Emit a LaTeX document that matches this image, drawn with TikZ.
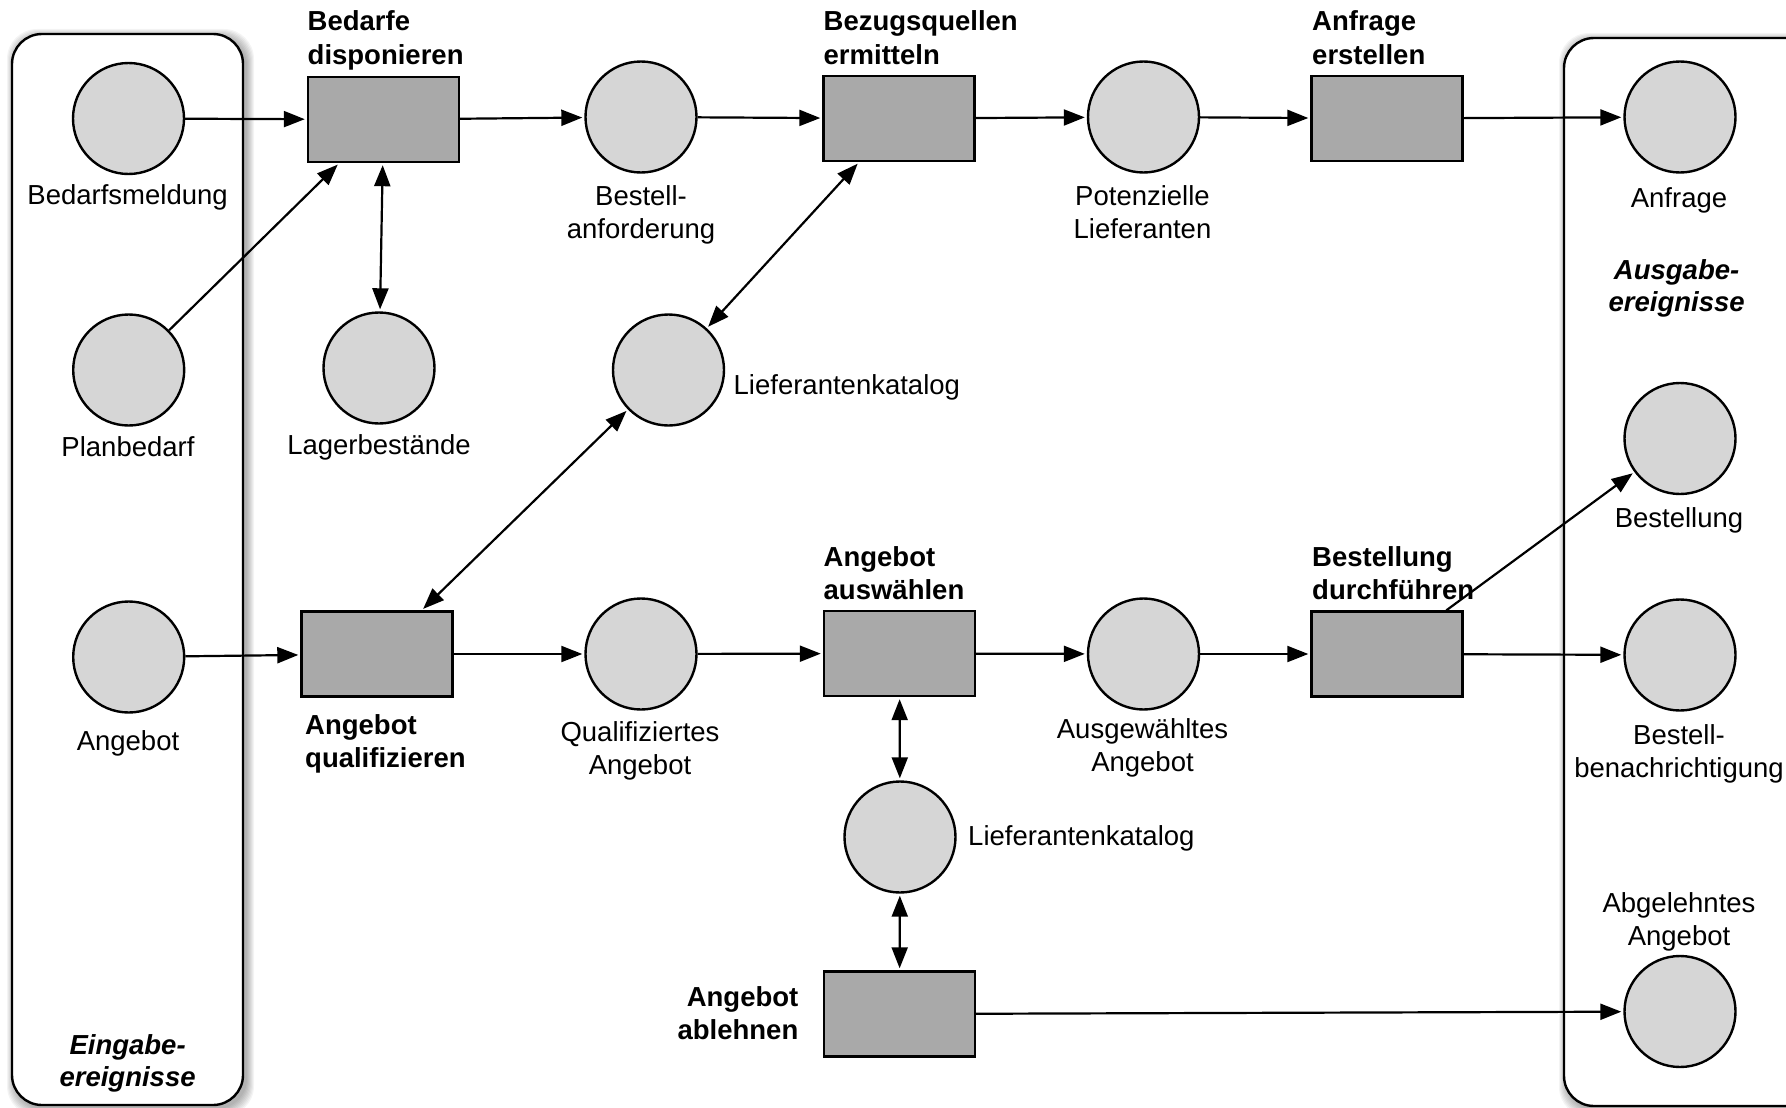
\documentclass[tikz,border=0pt]{standalone}
\usepackage{fontspec}
\setmainfont{Liberation Sans}
\usetikzlibrary{arrows.meta}

\definecolor{placefill}{HTML}{D6D6D6}
\definecolor{transfill}{HTML}{A9A9A9}

\begin{document}
\begin{tikzpicture}[x=1pt,y=-1pt,
  place/.style={circle,draw,fill=placefill,line width=2.4pt,minimum size=111pt,inner sep=0pt},
  trans/.style={rectangle,draw,fill=transfill,line width=2.4pt,minimum width=151pt,minimum height=85pt,inner sep=0pt},
  lbl/.style={font=\fontsize{27.5}{33}\selectfont,align=center,anchor=base,inner sep=0pt},
  tlbl/.style={font=\fontsize{27.5}{33}\selectfont\bfseries,align=left,anchor=base west,inner sep=0pt},
  grouplbl/.style={font=\fontsize{27.5}{32}\selectfont\bfseries\itshape,align=center,anchor=base,inner sep=0pt},
  group/.style={draw,fill=white,line width=2.4pt,rounded corners=30pt},
  arr/.style={line width=2.2pt,-{Triangle[length=21pt,width=16pt]},shorten >=2pt},
  biarr/.style={line width=2.2pt,{Triangle[length=21pt,width=16pt]}-{Triangle[length=21pt,width=16pt]},shorten >=2pt,shorten <=2pt}
]
\clip (0,0) rectangle (1786,1108);

% soft shadows behind the two event containers
\foreach \d in {1,...,8}{
  \fill[black,opacity=0.045,rounded corners=30pt] (12+3-\d,34+3-\d) rectangle (243+3+\d,1105+3+\d);
  \fill[black,opacity=0.045,rounded corners=30pt] (1564+3-\d,38+3-\d) rectangle (1850+3+\d,1106+3+\d);
}
% event containers
\draw[group] (12,34) rectangle (243,1105);
\draw[group] (1564,38) rectangle (1850,1106);

% places
\node[place] (bm)   at (128.5,118.5) {};
\node[place] (pb)   at (128.7,370)   {};
\node[place] (ang)  at (128.7,657)   {};
\node[place] (lag)  at (379,368)     {};
\node[place] (banf) at (641,117)     {};
\node[place] (lk1)  at (668.5,370)   {};
\node[place] (potl) at (1143.5,117)  {};
\node[place] (qang) at (641,654)     {};
\node[place] (lk2)  at (900,837)     {};
\node[place] (aang) at (1143.5,654)  {};
\node[place] (anf)  at (1680,117)    {};
\node[place] (best) at (1680,438.5)  {};
\node[place] (bben) at (1680,655)    {};
\node[place] (abg)  at (1680,1011.5) {};

% transitions
\node[trans] (bd)  at (383.5,119.5) {};
\node[trans] (bq)  at (899,118.5)   {};
\node[trans] (ae)  at (1387,118.5)  {};
\node[trans] (aq)  at (377,654)     {};
\node[trans] (aa)  at (899.5,653.5) {};
\node[trans] (bdf) at (1387,654)    {};
\node[trans] (aab) at (899.5,1014)  {};

% place labels (multi-line labels are anchored at their last baseline)
\node[lbl] (t-bm)   at (127.6,204)   {Bedarfsmeldung};
\node[lbl] (t-pb)   at (128,456.7)   {Planbedarf};
\node[lbl] (t-ang)  at (128,750.6)   {Angebot};
\node[lbl] (t-lag)  at (379,454.5)   {Lagerbestände};
\node[lbl] (t-banf) at (641,238)     {Bestell-\\anforderung};
\node[lbl,anchor=base west] (t-lk1) at (733.5,394) {Lieferantenkatalog};
\node[lbl] (t-potl) at (1142.5,238)  {Potenzielle\\Lieferanten};
\node[lbl] (t-anf)  at (1679,207)    {Anfrage};
\node[lbl] (t-best) at (1679,527)    {Bestellung};
\node[lbl] (t-bben) at (1679,777)    {Bestell-\\benachrichtigung};
\node[lbl] (t-qang) at (640,774.5)   {Qualifiziertes\\Angebot};
\node[lbl] (t-aang) at (1142.5,771)  {Ausgewähltes\\Angebot};
\node[lbl,anchor=base west] (t-lk2) at (968,845) {Lieferantenkatalog};
\node[lbl] (t-abg)  at (1679,945)    {Abgelehntes\\Angebot};

% container labels
\node[grouplbl] (t-in)  at (127.6,1086) {Eingabe-\\ereignisse};
\node[grouplbl] (t-out) at (1676.6,311) {Ausgabe-\\ereignisse};

% transition labels
\node[tlbl] (t-bd)  at (307.5,64)  {Bedarfe\\disponieren};
\node[tlbl] (t-bq)  at (823.5,64)  {Bezugsquellen\\ermitteln};
\node[tlbl] (t-ae)  at (1312,64)   {Anfrage\\erstellen};
\node[tlbl] (t-aq)  at (305,767.7) {Angebot\\qualifizieren};
\node[tlbl] (t-aa)  at (823.5,599) {Angebot\\auswählen};
\node[tlbl] (t-bdf) at (1312,599)  {Bestellung\\durchführen};
\node[tlbl,align=right,anchor=base east] (t-aab) at (798.5,1039) {Angebot\\ablehnen};

% arcs
\draw[arr] (bm) -- (bd);
\draw[arr] (pb) -- (bd);
\draw[biarr] (bd) -- (lag);
\draw[arr] (bd) -- (banf);
\draw[arr] (banf) -- (bq);
\draw[biarr] (bq) -- (lk1);
\draw[arr] (bq) -- (potl);
\draw[arr] (potl) -- (ae);
\draw[arr] (ae) -- (anf);
\draw[biarr] (lk1) -- (aq);
\draw[arr] (ang) -- (aq);
\draw[arr] (aq) -- (qang);
\draw[arr] (qang) -- (aa);
\draw[biarr] (aa) -- (lk2);
\draw[biarr] (lk2) -- (aab);
\draw[arr] (aa) -- (aang);
\draw[arr] (aang) -- (bdf);
\draw[arr] (bdf) -- (best);
\draw[arr] (bdf) -- (bben);
\draw[arr] (aab) -- (abg);
\end{tikzpicture}
\end{document}
